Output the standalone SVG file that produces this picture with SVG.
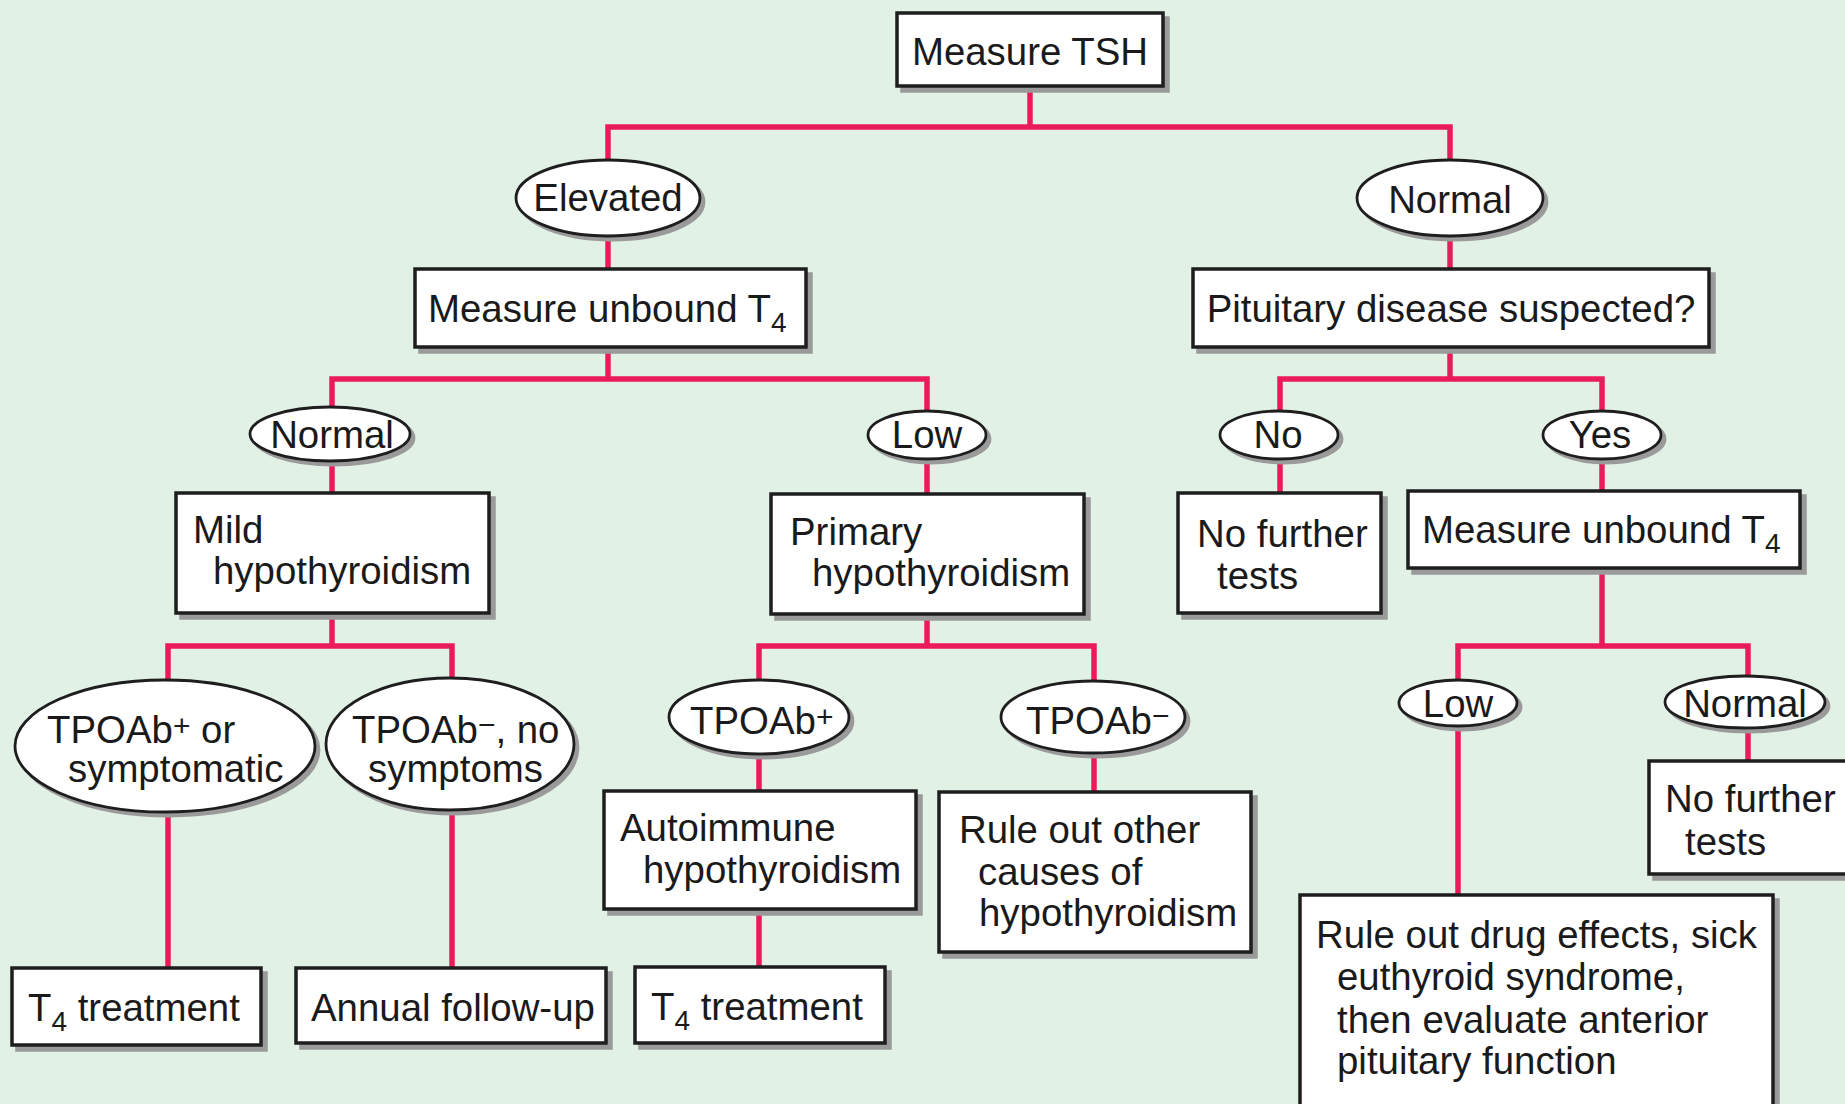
<svg xmlns="http://www.w3.org/2000/svg" width="1845" height="1104" viewBox="0 0 1845 1104">
<style>
  text { font-family: "Liberation Sans", Arial, sans-serif; font-size: 38.4px; fill: #1a1a1a; }
  .c { text-anchor: middle; }
  .box { fill: #ffffff; stroke: #1e1e1e; stroke-width: 3.5; }
  .bsh { fill: #9a9a9a; stroke: #9a9a9a; stroke-width: 3.5; }
  .ell { fill: #ffffff; stroke: #1e1e1e; stroke-width: 2.8; }
  .esh { fill: #9a9a9a; stroke: #9a9a9a; stroke-width: 2.8; }
  .conn { fill: none; stroke: #eb1b5b; stroke-width: 5.5; stroke-linejoin: miter; stroke-linecap: butt; }
  .sub { font-size: 28px; }
  .sup { font-size: 30px; }
</style>
<rect x="0" y="0" width="1845" height="1104" fill="#e2f1e6"/>

<g id="connectors">
  <path class="conn" d="M1030,60 V127"/>
  <path class="conn" d="M608,198 V127 H1450 V198"/>
  <path class="conn" d="M608,198 V300"/>
  <path class="conn" d="M1450,198 V300"/>
  <path class="conn" d="M608,300 V379"/>
  <path class="conn" d="M332,550 V379 H927 V550"/>
  <path class="conn" d="M1450,300 V379"/>
  <path class="conn" d="M1280,550 V379 H1602 V530"/>
  <path class="conn" d="M332,550 V646"/>
  <path class="conn" d="M168,1000 V646 H452 V1000"/>
  <path class="conn" d="M927,550 V646"/>
  <path class="conn" d="M759,1000 V646 H1094 V850"/>
  <path class="conn" d="M1602,530 V646"/>
  <path class="conn" d="M1458,950 V646 H1748 V800"/>
</g>

<g id="n-measure-tsh">
  <rect class="bsh" x="902" y="18" width="266" height="73"/>
  <rect class="box" x="897" y="13" width="266" height="73"/>
  <text class="c" x="1030" y="65">Measure TSH</text>
</g>

<g id="n-elevated">
  <ellipse class="esh" cx="612" cy="202" rx="92" ry="38"/>
  <ellipse class="ell" cx="608" cy="198" rx="92" ry="38"/>
  <text class="c" x="608" y="211">Elevated</text>
</g>

<g id="n-normal-top">
  <ellipse class="esh" cx="1454" cy="202" rx="93" ry="38"/>
  <ellipse class="ell" cx="1450" cy="198" rx="93" ry="38"/>
  <text class="c" x="1450" y="213">Normal</text>
</g>

<g id="n-measure-t4-left">
  <rect class="bsh" x="420" y="274" width="391" height="78"/>
  <rect class="box" x="415" y="269" width="391" height="78"/>
  <text x="428" y="322">Measure unbound T<tspan class="sub" dy="10">4</tspan></text>
</g>

<g id="n-pituitary">
  <rect class="bsh" x="1198" y="274" width="516" height="78"/>
  <rect class="box" x="1193" y="269" width="516" height="78"/>
  <text class="c" x="1451" y="322">Pituitary disease suspected?</text>
</g>

<g id="n-normal-left">
  <ellipse class="esh" cx="334" cy="438" rx="80" ry="27"/>
  <ellipse class="ell" cx="330" cy="434" rx="80" ry="27"/>
  <text class="c" x="332" y="448">Normal</text>
</g>

<g id="n-low-mid">
  <ellipse class="esh" cx="931" cy="439" rx="59" ry="24"/>
  <ellipse class="ell" cx="927" cy="435" rx="59" ry="24"/>
  <text class="c" x="927" y="448">Low</text>
</g>

<g id="n-no">
  <ellipse class="esh" cx="1283" cy="439" rx="59" ry="24"/>
  <ellipse class="ell" cx="1279" cy="435" rx="59" ry="24"/>
  <text class="c" x="1278" y="448">No</text>
</g>

<g id="n-yes">
  <ellipse class="esh" cx="1606" cy="439" rx="59" ry="24"/>
  <ellipse class="ell" cx="1602" cy="435" rx="59" ry="24"/>
  <text class="c" x="1600" y="448">Yes</text>
</g>

<g id="n-mild">
  <rect class="bsh" x="181" y="498" width="313" height="120"/>
  <rect class="box" x="176" y="493" width="313" height="120"/>
  <text x="193" y="543">Mild</text>
  <text x="213" y="584">hypothyroidism</text>
</g>

<g id="n-primary">
  <rect class="bsh" x="776" y="499" width="313" height="120"/>
  <rect class="box" x="771" y="494" width="313" height="120"/>
  <text x="790" y="545">Primary</text>
  <text x="812" y="586">hypothyroidism</text>
</g>

<g id="n-no-further-1">
  <rect class="bsh" x="1183" y="498" width="203" height="120"/>
  <rect class="box" x="1178" y="493" width="203" height="120"/>
  <text x="1197" y="547">No further</text>
  <text x="1217" y="589">tests</text>
</g>

<g id="n-measure-t4-right">
  <rect class="bsh" x="1413" y="496" width="392" height="77"/>
  <rect class="box" x="1408" y="491" width="392" height="77"/>
  <text x="1422" y="543">Measure unbound T<tspan class="sub" dy="10">4</tspan></text>
</g>

<g id="n-tpoab-pos-sympt">
  <ellipse class="esh" cx="169" cy="750" rx="150" ry="66"/>
  <ellipse class="ell" cx="165" cy="746" rx="150" ry="66"/>
  <text x="47" y="743">TPOAb<tspan class="sup" dy="-7">+</tspan><tspan dy="7"> or</tspan></text>
  <text x="68" y="782">symptomatic</text>
</g>

<g id="n-tpoab-neg-nosympt">
  <ellipse class="esh" cx="454" cy="748" rx="124" ry="66"/>
  <ellipse class="ell" cx="450" cy="744" rx="124" ry="66"/>
  <text x="352" y="743">TPOAb<tspan class="sup" dy="-8">−</tspan><tspan dy="8">, no</tspan></text>
  <text x="368" y="782">symptoms</text>
</g>

<g id="n-tpoab-pos">
  <ellipse class="esh" cx="763" cy="721" rx="90" ry="37"/>
  <ellipse class="ell" cx="759" cy="717" rx="90" ry="37"/>
  <text x="690" y="734">TPOAb<tspan class="sup" dy="-7">+</tspan></text>
</g>

<g id="n-tpoab-neg">
  <ellipse class="esh" cx="1097" cy="721" rx="92" ry="36"/>
  <ellipse class="ell" cx="1093" cy="717" rx="92" ry="36"/>
  <text x="1026" y="734">TPOAb<tspan class="sup" dy="-8">−</tspan></text>
</g>

<g id="n-low-right">
  <ellipse class="esh" cx="1462" cy="707" rx="59" ry="23"/>
  <ellipse class="ell" cx="1458" cy="703" rx="59" ry="23"/>
  <text class="c" x="1458" y="717">Low</text>
</g>

<g id="n-normal-right">
  <ellipse class="esh" cx="1749" cy="706" rx="80" ry="26"/>
  <ellipse class="ell" cx="1745" cy="702" rx="80" ry="26"/>
  <text class="c" x="1745" y="717">Normal</text>
</g>

<g id="n-autoimmune">
  <rect class="bsh" x="609" y="796" width="312" height="118"/>
  <rect class="box" x="604" y="791" width="312" height="118"/>
  <text x="620" y="841">Autoimmune</text>
  <text x="643" y="883">hypothyroidism</text>
</g>

<g id="n-rule-out-other">
  <rect class="bsh" x="944" y="797" width="312" height="160"/>
  <rect class="box" x="939" y="792" width="312" height="160"/>
  <text x="959" y="843">Rule out other</text>
  <text x="978" y="885">causes of</text>
  <text x="979" y="926">hypothyroidism</text>
</g>

<g id="n-no-further-2">
  <rect class="bsh" x="1654" y="766" width="220" height="113"/>
  <rect class="box" x="1649" y="761" width="220" height="113"/>
  <text x="1665" y="812">No further</text>
  <text x="1685" y="855">tests</text>
</g>

<g id="n-rule-out-drug">
  <rect class="bsh" x="1305" y="900" width="473" height="230"/>
  <rect class="box" x="1300" y="895" width="473" height="230"/>
  <text x="1316" y="948">Rule out drug effects, sick</text>
  <text x="1337" y="990">euthyroid syndrome,</text>
  <text x="1337" y="1033">then evaluate anterior</text>
  <text x="1337" y="1074">pituitary function</text>
</g>

<g id="n-t4-left">
  <rect class="bsh" x="17" y="973" width="249" height="77"/>
  <rect class="box" x="12" y="968" width="249" height="77"/>
  <text x="28" y="1021">T<tspan class="sub" dy="10">4</tspan><tspan dy="-10"> treatment</tspan></text>
</g>

<g id="n-annual">
  <rect class="bsh" x="301" y="973" width="310" height="75"/>
  <rect class="box" x="296" y="968" width="310" height="75"/>
  <text x="311" y="1021">Annual follow-up</text>
</g>

<g id="n-t4-mid">
  <rect class="bsh" x="640" y="972" width="250" height="76"/>
  <rect class="box" x="635" y="967" width="250" height="76"/>
  <text x="651" y="1020">T<tspan class="sub" dy="10">4</tspan><tspan dy="-10"> treatment</tspan></text>
</g>
</svg>
